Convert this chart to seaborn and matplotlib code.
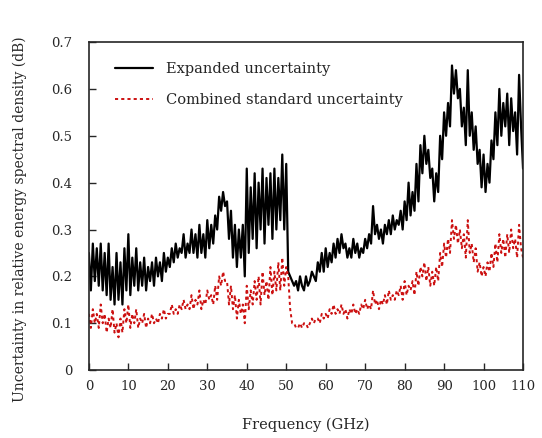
import numpy as np
import pandas as pd
import seaborn as sns
import matplotlib
matplotlib.use('Agg')
import matplotlib.pyplot as plt

# frequency grid, 0.5 GHz steps
freq = [i * 0.5 for i in range(221)]

# expanded uncertainty (black), pairs per GHz: value at k, k+0.5
expanded = [
    0.25, 0.17, 0.27, 0.19, 0.26, 0.18, 0.27, 0.17, 0.25, 0.16,
    0.27, 0.15, 0.22, 0.14, 0.25, 0.15, 0.23, 0.14, 0.26, 0.17,
    0.29, 0.16, 0.24, 0.18, 0.26, 0.17, 0.23, 0.18, 0.24, 0.17,
    0.22, 0.19, 0.23, 0.18, 0.24, 0.20, 0.23, 0.19, 0.25, 0.21,
    0.24, 0.22, 0.26, 0.23, 0.27, 0.24, 0.26, 0.25, 0.29, 0.24,
    0.27, 0.25, 0.30, 0.25, 0.29, 0.24, 0.31, 0.25, 0.29, 0.24,
    0.32, 0.26, 0.31, 0.27, 0.33, 0.30, 0.37, 0.34, 0.38, 0.35,
    0.36, 0.28, 0.34, 0.24, 0.31, 0.22, 0.30, 0.24, 0.31, 0.20,
    0.43, 0.25, 0.39, 0.28, 0.42, 0.26, 0.40, 0.30, 0.43, 0.27,
    0.41, 0.31, 0.42, 0.28, 0.43, 0.30, 0.41, 0.32, 0.46, 0.30,
    0.44, 0.21, 0.20, 0.19, 0.18, 0.19, 0.17, 0.20, 0.18, 0.17,
    0.20, 0.18, 0.19, 0.21, 0.20, 0.19, 0.23, 0.21, 0.25, 0.21,
    0.26, 0.22, 0.25, 0.23, 0.27, 0.24, 0.28, 0.25, 0.29, 0.26,
    0.27, 0.24, 0.26, 0.24, 0.28, 0.25, 0.27, 0.24, 0.26, 0.25,
    0.28, 0.26, 0.29, 0.27, 0.35, 0.29, 0.31, 0.28, 0.30, 0.27,
    0.31, 0.29, 0.32, 0.29, 0.33, 0.30, 0.32, 0.31, 0.34, 0.30,
    0.36, 0.32, 0.40, 0.33, 0.38, 0.34, 0.44, 0.36, 0.48, 0.42,
    0.50, 0.44, 0.47, 0.41, 0.43, 0.36, 0.42, 0.38, 0.50, 0.45,
    0.55, 0.50, 0.57, 0.52, 0.65, 0.59, 0.64, 0.58, 0.60, 0.52,
    0.56, 0.48, 0.64, 0.50, 0.55, 0.47, 0.52, 0.44, 0.47, 0.39,
    0.46, 0.38, 0.44, 0.40, 0.49, 0.45, 0.55, 0.48, 0.60, 0.50,
    0.57, 0.52, 0.59, 0.48, 0.58, 0.51, 0.55, 0.46, 0.63, 0.52,
    0.43,
]

# combined standard uncertainty (red dashed)
combined = [
    0.12, 0.09, 0.13, 0.10, 0.12, 0.09, 0.14, 0.10, 0.12, 0.08,
    0.11, 0.09, 0.13, 0.08, 0.10, 0.07, 0.11, 0.08, 0.13, 0.10,
    0.14, 0.09, 0.12, 0.10, 0.13, 0.09, 0.11, 0.10, 0.12, 0.09,
    0.11, 0.10, 0.12, 0.10, 0.11, 0.10, 0.12, 0.11, 0.13, 0.11,
    0.12, 0.12, 0.14, 0.12, 0.13, 0.12, 0.14, 0.13, 0.15, 0.13,
    0.14, 0.13, 0.16, 0.13, 0.15, 0.14, 0.17, 0.13, 0.15, 0.14,
    0.17, 0.15, 0.16, 0.14, 0.18, 0.15, 0.20, 0.18, 0.21, 0.19,
    0.19, 0.14, 0.18, 0.13, 0.16, 0.11, 0.15, 0.12, 0.14, 0.10,
    0.18, 0.13, 0.17, 0.14, 0.19, 0.15, 0.20, 0.14, 0.21, 0.16,
    0.19, 0.15, 0.22, 0.16, 0.21, 0.17, 0.23, 0.17, 0.24, 0.18,
    0.22, 0.20, 0.13, 0.10, 0.10, 0.09, 0.09, 0.10, 0.09, 0.10,
    0.10, 0.09, 0.10, 0.11, 0.10, 0.11, 0.11, 0.10, 0.12, 0.11,
    0.12, 0.11, 0.13, 0.12, 0.14, 0.12, 0.13, 0.12, 0.14, 0.12,
    0.13, 0.11, 0.13, 0.12, 0.14, 0.12, 0.13, 0.12, 0.14, 0.13,
    0.15, 0.13, 0.14, 0.13, 0.17, 0.14, 0.15, 0.13, 0.15, 0.14,
    0.16, 0.14, 0.17, 0.15, 0.16, 0.15, 0.17, 0.16, 0.18, 0.15,
    0.19, 0.16, 0.18, 0.17, 0.19, 0.16, 0.21, 0.18, 0.22, 0.20,
    0.23, 0.19, 0.22, 0.18, 0.21, 0.18, 0.22, 0.19, 0.25, 0.22,
    0.27, 0.24, 0.28, 0.25, 0.32, 0.28, 0.31, 0.27, 0.30, 0.26,
    0.29, 0.24, 0.32, 0.25, 0.27, 0.23, 0.26, 0.21, 0.23, 0.20,
    0.22, 0.20, 0.23, 0.21, 0.25, 0.22, 0.27, 0.23, 0.29, 0.25,
    0.28, 0.24, 0.29, 0.25, 0.30, 0.26, 0.28, 0.24, 0.31, 0.26,
    0.24,
]

xticks = list(range(0, 111, 10))
yticks = [0, 0.1, 0.2, 0.3, 0.4, 0.5, 0.6, 0.7]
ytick_labels = ['0', '0.1', '0.2', '0.3', '0.4', '0.5', '0.6', '0.7']

sns.set_style('ticks')
plt.rcParams['font.family'] = ['DejaVu Serif']

fig = plt.figure(figsize=(5.42, 4.38), dpi=100)
ax = fig.add_axes([0.164, 0.155, 0.801, 0.749])

sns.lineplot(x=freq, y=expanded, ax=ax, color='black', linewidth=1.6,
             label='Expanded uncertainty')
sns.lineplot(x=freq, y=combined, ax=ax, color='#cc1111', linewidth=1.4,
             linestyle=(0, (1.6, 1.6)), label='Combined standard uncertainty')

ax.set_xlim(0, 110)
ax.set_ylim(0, 0.7)
ax.set_xticks(xticks)
ax.set_yticks(yticks)
ax.set_yticklabels(ytick_labels)
ax.tick_params(direction='in', length=5, width=1, labelsize=9.5, top=False, right=False)
ax.tick_params(axis='x', pad=7)
ax.tick_params(axis='y', pad=12)
for s in ax.spines.values():
    s.set_linewidth(1.2)
    s.set_visible(True)

ax.set_xlabel('Frequency (GHz)', fontsize=10.5, labelpad=18)
ax.set_ylabel('Uncertainty in relative energy spectral density (dB)', fontsize=10)
ax.yaxis.set_label_coords(-0.143, 0.46)

ax.legend(loc='upper left', bbox_to_anchor=(0.03, 0.98), frameon=False,
          handlelength=2.6, handletextpad=0.9, labelspacing=1.2, fontsize=10.5)

fig.savefig('out.png', dpi=100)
